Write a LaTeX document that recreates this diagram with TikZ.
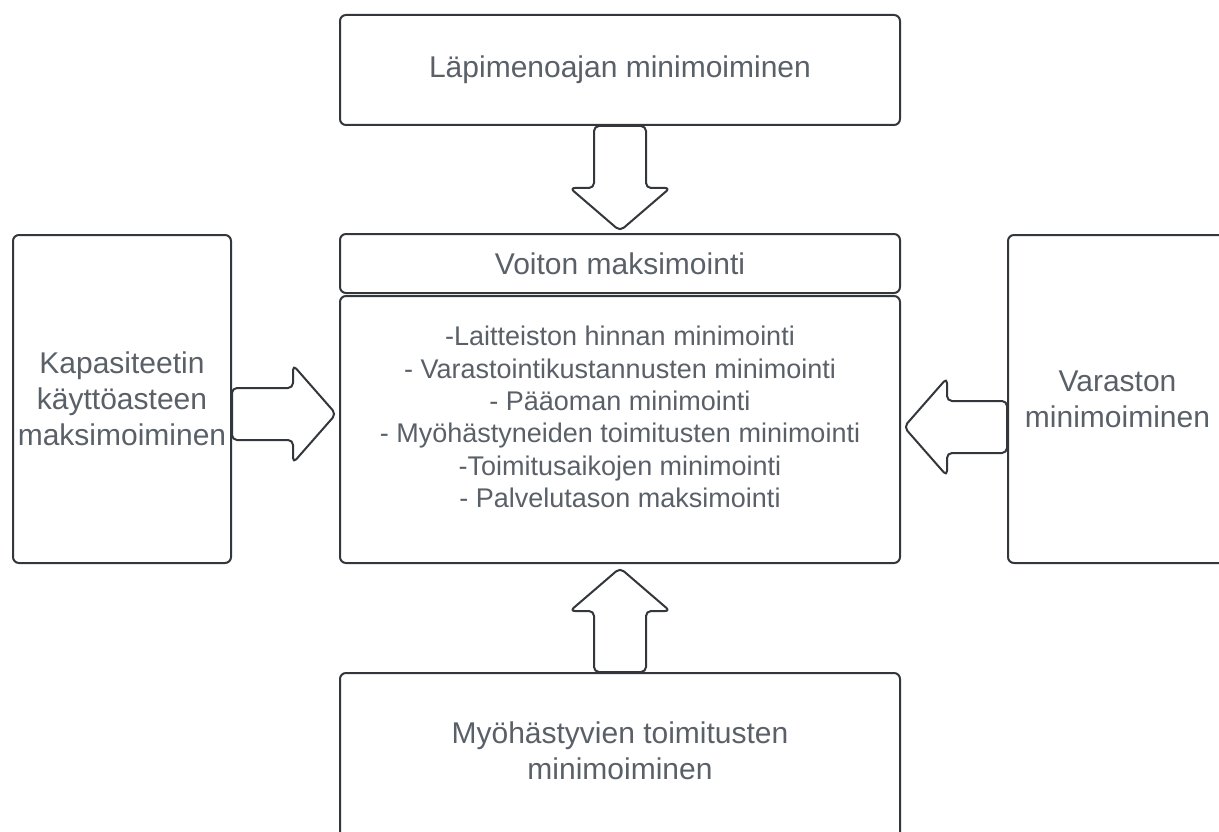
\documentclass[tikz,border=0pt]{standalone}
\usepackage{fontspec}
\setmainfont{Liberation Sans}
\usetikzlibrary{calc}
\definecolor{lineC}{HTML}{33363B}
\definecolor{textC}{HTML}{5A6068}
\begin{document}
\begin{tikzpicture}[x=1pt,y=-1pt,
  box/.style={draw=lineC, line width=2pt, rounded corners=6pt, inner sep=0pt, text=textC, align=center},
  big/.style={font=\fontsize{30}{36}\selectfont},
  small/.style={font=\fontsize{27}{32.4}\selectfont},
  label/.style={text=textC, align=center, inner sep=0pt},
  blockarrow/.style={draw=lineC, line width=2pt, rounded corners=5pt, line join=round}]
\useasboundingbox (0,0) rectangle (1219,832);
% boxes
\node[box,big,minimum width=560pt,minimum height=110pt] (top) at (620,70) {Läpimenoajan minimoiminen};
\node[box,big,minimum width=560pt,minimum height=59pt] (voiton) at (620,263.5) {Voiton maksimointi};
\node[box,minimum width=560pt,minimum height=267pt] (main) at (620,429.5) {};
\node[label,small] (mainlist) at (620,417) {-Laitteiston hinnan minimointi\\
- Varastointikustannusten minimointi\\
- Pääoman minimointi\\
- Myöhästyneiden toimitusten minimointi\\
-Toimitusaikojen minimointi\\
- Palvelutason maksimointi};
\node[box,big,minimum width=218pt,minimum height=328pt] (left) at (122,399) {Kapasiteetin\\käyttöasteen\\maksimoiminen};
\node[box,big,minimum width=219pt,minimum height=328pt] (right) at (1117.5,399) {Varaston\\minimoiminen};
\node[box,minimum width=560pt,minimum height=180pt] (bottom) at (620,763) {};
\node[label,big] (bottomtext) at (620,751) {Myöhästyvien toimitusten\\minimoiminen};
% block arrows
\draw[blockarrow] ($(top.south)+(-26,0)$) -- ($(top.south)+(-26,62)$) -- ($(top.south)+(-50,62)$)
  -- ($(voiton.north)+(0,-2)$) -- ($(top.south)+(50,62)$) -- ($(top.south)+(26,62)$)
  -- ($(top.south)+(26,0)$) -- cycle;
\draw[blockarrow] ($(bottom.north)+(-26,0)$) -- ($(bottom.north)+(-26,-61)$) -- ($(bottom.north)+(-50,-61)$)
  -- ($(main.south)+(0,4)$) -- ($(bottom.north)+(50,-61)$) -- ($(bottom.north)+(26,-61)$)
  -- ($(bottom.north)+(26,0)$) -- cycle;
\draw[blockarrow] ($(left.east)+(0,-11)$) -- ($(left.east)+(61,-11)$) -- ($(left.east)+(61,-34)$)
  -- ($(main.west)+(-3,-15.5)$) -- ($(left.east)+(61,64)$) -- ($(left.east)+(61,41)$)
  -- ($(left.east)+(0,41)$) -- cycle;
\draw[blockarrow] ($(right.west)+(0,2)$) -- ($(right.west)+(-60,2)$) -- ($(right.west)+(-60,-21)$)
  -- ($(main.east)+(3,-2.5)$) -- ($(right.west)+(-60,77)$) -- ($(right.west)+(-60,54)$)
  -- ($(right.west)+(0,54)$) -- cycle;
\end{tikzpicture}
\end{document}
